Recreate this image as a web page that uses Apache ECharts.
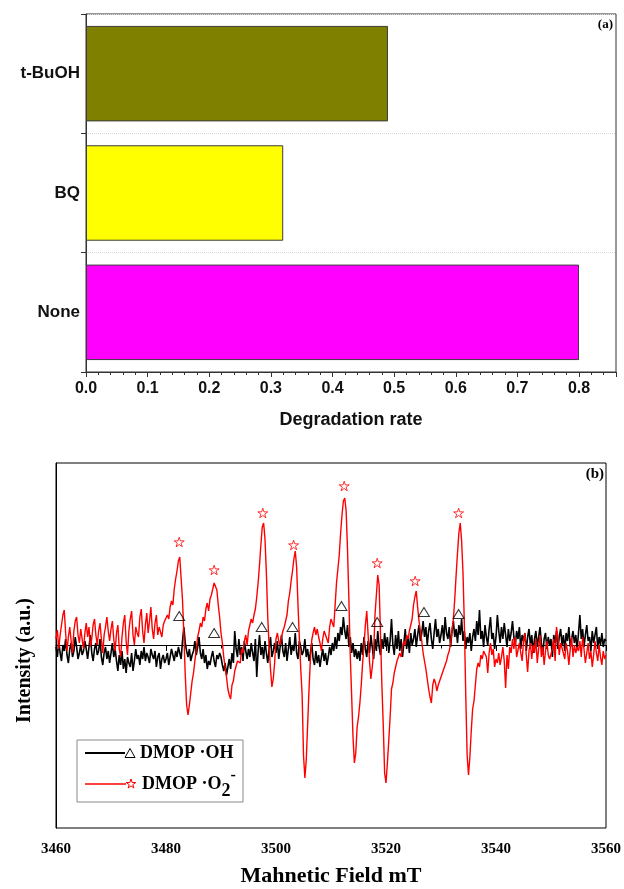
<!DOCTYPE html>
<html>
<head>
<meta charset="utf-8">
<title>Scavenger test and EPR spectra</title>
<script src="https://cdn.jsdelivr.net/npm/echarts@6/dist/echarts.min.js"></script>
<style>
  html, body { margin: 0; padding: 0; background: #fff; }
  #chart { width: 624px; height: 889px; }
</style>
</head>
<body>
<div id="chart"></div>
<script>
// ---- (a) scavenger experiment ----
const categories = ['None', 'BQ', 't-BuOH'];
const degradationRate = [0.80, 0.32, 0.49];
const barColors = ['#ff00ff', '#ffff00', '#808000'];

// ---- (b) EPR spectra, sweep 3460-3560 mT in 0.25 mT steps ----
const fieldStart = 3460;
const fieldStep = 0.25;
const fieldTicks = [3460, 3480, 3500, 3520, 3540, 3560];

// DMOP-OH trace (arbitrary intensity units)
const ohTrace = [
  -2, -12, 4, -8, -16, 0, -6, 6, -10, -18, -4, 2, -12, -6, 8, -2, -14, -8, 0, -10,
  -6, 4, -4, -14, -2, 10, -8, -16, -4, 2, -10, -6, 6, -12, -20, -8, -2, -14, -6, -18,
  -8, 2, -12, -4, -16, -26, -10, -20, -6, -24, -14, -28, -12, -18, -22, -8, -26, -16, -4, -14,
  -10, -20, -6, -14, -2, -16, -8, -12, -18, -4, -10, -14, -6, -22, -12, -8, -24, -14, -10, -18,
  -14, -8, -20, -12, -4, -10, -16, -6, -12, -2, -8, -14, 4, 18, 2, -6, -12, -4, -16, -10,
  -6, 4, -10, -2, 8, -8, -14, -4, -18, -10, -24, -16, -20, -12, -6, -16, -22, -10, -14, -8,
  -12, -20, -26, -18, -30, -22, -14, -24, -8, -18, 14, -4, -12, 6, -10, -2, -16, 4, -6, -14,
  -4, -12, 2, -8, -16, 6, -32, -6, 10, -10, -2, -14, 4, -8, -18, -4, 8, -12, -6, 2,
  -8, 4, -14, -2, 10, -6, -12, 2, -16, -4, 8, -10, 0, -6, 12, -8, -14, 4, -2, -10,
  -6, 6, -12, -4, -16, -8, 2, -14, -20, -6, -18, -10, -22, -12, -4, -16, -8, -20, -12, -2,
  -10, 2, -6, 8, -4, 12, 4, 18, 10, 28, 14, 6, 20, -2, 8, -8, 2, -12, -4, -14,
  -6, -16, 2, -10, 8, -4, -12, 4, -8, 10, -2, -14, 6, -6, 14, -2, -10, 6, -4, 12,
  -2, 8, -8, 4, 26, 0, -10, 10, -4, 14, -6, 6, -12, 2, 16, -4, 8, -8, 12, 0,
  6, 16, -2, 10, 20, 4, 12, 24, 8, 18, 0, 14, 22, 6, -4, 12, 26, 8, 16, 2,
  10, 20, 4, 28, 12, 6, 18, -2, 14, 24, 8, 16, 2, 20, 10, 26, 4, 14, -4, 8,
  2, 12, -6, 8, 16, 4, 24, 10, 35, 6, 14, -2, 20, 8, 0, 16, 28, 6, 12, -4,
  8, 30, 14, 2, 18, 6, 22, 10, -2, 16, 4, 12, 24, 8, 0, 14, 6, 18, -4, 10,
  4, 12, -6, 8, 16, 0, 10, -8, 6, 14, -2, 8, 18, 2, -10, 6, 12, -4, 8, 0,
  6, -12, 10, 2, 14, -4, 8, 16, 0, 10, -6, 12, 4, 18, -2, 6, 14, 2, 10, -4,
  12, 30, 6, 16, -2, 10, 20, 4, 8, -6, 14, 2, 10, 18, -4, 8, 0, 12, -2, 6, 4
];

// DMOP-O2- trace (arbitrary intensity units)
const o2Trace = [
  6, 15, -4, 10, 20, 30, 35, 12, -6, 8, 18, 4, -8, 14, 24, 28, 10, 2, 16, 6,
  -4, 12, 22, 8, 18, -2, 6, 20, 26, 10, 0, 14, 22, 6, -8, 10, 18, 28, 14, 4,
  16, 24, 6, -6, 12, 20, -4, -12, 8, 22, 30, 4, -10, 14, 26, 34, 10, 0, 18, 12,
  8, 28, 36, 14, 2, 20, 32, 12, 24, 38, 16, 6, 22, 30, 10, 18, 16, 8, 20, 24,
  22, 30, 26, 38, 44, 40, 56, 66, 74, 84, 88, 86, 45, 10, -30, -60, -70, -60, -48, -36,
  -28, -16, -4, 8, 14, 22, 18, 28, 24, 36, 42, 34, 46, 50, 56, 62, 63, 55, 40, 28,
  12, 2, -12, -22, -32, -44, -50, -54, -40, -36, -26, -28, -16, -14, -18, -4, -8, 4, 10, 0,
  14, 20, 26, 22, 30, 36, 48, 62, 80, 100, 118, 122, 106, 72, 28, -2, -24, -42, -34, -18,
  6, 12, 4, 0, 8, 14, 18, 24, 30, 44, 52, 64, 74, 86, 94, 78, 40, 6, -24, -50,
  -110, -133, -115, -80, -45, -15, 5, 12, 18, 10, 16, 8, 2, -6, 6, 14, 16, 6, 2, 18,
  26, 22, 18, 40, 62, 76, 90, 112, 130, 144, 147, 134, 96, 46, -10, -50, -92, -118, -108, -82,
  -72, -58, -40, -18, 0, 20, 34, 10, -16, -34, -22, -8, 30, 50, 70, 60, 10, -40, -80, -128,
  -138, -118, -96, -72, -44, -38, -28, -30, -16, -18, -8, -12, -2, 4, 0, 10, 6, 14, 20, 26,
  40, 48, 54, 38, 24, 14, 4, -8, -16, -24, -34, -44, -52, -58, -40, -34, -38, -46, -40, -36,
  -32, -28, -26, -20, -16, -10, -6, 2, 14, 26, 46, 70, 92, 112, 122, 104, 72, 20, -50, -110,
  -130, -112, -86, -64, -56, -40, -24, -18, -22, -10, -14, -6, -4, -12, -28, -8, 2, -10, -4, -22,
  -14, -18, -8, -20, -12, -2, -16, -43, -10, -24, -2, -8, 6, -4, 8, -12, -5, 2, -8, -16,
  4, 12, -10, -27, -6, 2, -14, 0, -8, 6, -18, -4, 10, -12, -2, -20, -6, 4, -10, -14,
  -12, -4, 6, -16, 18, 8, -10, 2, 4, -8, -14, 2, -6, -20, -4, 8, -12, 0, -8, -2,
  -6, 4, -12, 8, -4, -18, -8, 2, -14, -6, -22, -10, 4, -8, -16, 0, -12, -20, -6, -14, -10
];

// peak markers: triangles for ·OH, stars for ·O2-
const ohMarkField = [3482.4, 3488.75, 3497.4, 3503.0, 3511.9, 3518.4, 3526.9, 3533.2];
const ohMarkLevel = [29, 12, 18, 18, 39, 23, 33, 31];
const o2MarkField = [3482.4, 3488.75, 3497.6, 3503.2, 3512.4, 3518.4, 3525.3, 3533.2];
const o2MarkLevel = [103, 75, 132, 100, 159, 82, 64, 132];

const SANS = "'Liberation Sans', Arial, sans-serif";
const SERIF = "'Liberation Serif', 'Times New Roman', serif";
const STAR_PATH = 'path://M50,0L61.2,34.5L97.6,34.5L68.2,55.9L79.4,90.5L50,69.1L20.6,90.5L31.8,55.9L2.4,34.5L38.8,34.5Z';

const sweep = (vals) => vals.map((v, i) => [fieldStart + i * fieldStep, v]);
const zipPts = (xs, ys) => xs.map((x, i) => [x, ys[i]]);

const chart = echarts.init(document.getElementById('chart'), null, { renderer: 'canvas' });

chart.setOption({
  animation: false,
  backgroundColor: '#ffffff',
  grid: [
    { left: 86, top: 14, width: 530, height: 358, show: true, borderColor: '#333', borderWidth: 1, backgroundColor: 'transparent' },
    { left: 56, top: 463, width: 553, height: 365, show: true, borderColor: '#000', borderWidth: 1, backgroundColor: 'transparent' }
  ],
  xAxis: [
    {
      type: 'value', gridIndex: 0, min: 0, max: 0.86, interval: 0.1,
      axisLine: { show: true, lineStyle: { color: '#333', width: 1 } },
      axisTick: { show: true, length: 5, lineStyle: { color: '#333' } },
      minorTick: { show: true, splitNumber: 5, length: 3, lineStyle: { color: '#333' } },
      splitLine: { show: false },
      axisLabel: {
        formatter: (v) => v.toFixed(1), showMaxLabel: false, margin: 9,
        fontFamily: SANS, fontWeight: 'bold', fontSize: 16, color: '#111'
      },
      name: 'Degradation rate', nameLocation: 'middle', nameGap: 39,
      nameTextStyle: { fontFamily: SANS, fontWeight: 'bold', fontSize: 18, color: '#111' }
    },
    {
      type: 'value', gridIndex: 1, min: fieldTicks[0], max: fieldTicks[fieldTicks.length - 1], interval: 20,
      axisLine: { show: true, lineStyle: { color: '#000', width: 1 } },
      axisTick: { show: true, length: 6, lineStyle: { color: '#000' } },
      minorTick: { show: true, splitNumber: 2, length: 3.5, lineStyle: { color: '#000' } },
      splitLine: { show: false },
      axisLabel: {
        formatter: (v) => String(Math.round(v)), margin: 14,
        fontFamily: SERIF, fontWeight: 'bold', fontSize: 15, color: '#000'
      },
      name: 'Mahnetic Field mT', nameLocation: 'middle', nameGap: 37,
      nameTextStyle: { fontFamily: SERIF, fontWeight: 'bold', fontSize: 22, color: '#000' }
    }
  ],
  yAxis: [
    {
      type: 'category', gridIndex: 0, data: categories,
      axisLine: { show: true, lineStyle: { color: '#333', width: 1 } },
      axisTick: { show: true, length: 5, lineStyle: { color: '#333' } },
      splitLine: { show: true, lineStyle: { color: '#d8d8d8', type: 'dotted', width: 1 } },
      axisLabel: { margin: 6, fontFamily: SANS, fontWeight: 'bold', fontSize: 17, color: '#111' }
    },
    {
      type: 'value', gridIndex: 1, min: -183, max: 182,
      axisLine: { show: true, lineStyle: { color: '#000', width: 1 } },
      axisTick: { show: false },
      axisLabel: { show: false },
      splitLine: { show: false },
      name: 'Intensity (a.u.)', nameLocation: 'middle', nameRotate: 90, nameGap: 21,
      nameTextStyle: { fontFamily: SERIF, fontWeight: 'bold', fontSize: 20, color: '#000', padding: [0, 30, 0, 0] }
    }
  ],
  series: [
    {
      type: 'bar', xAxisIndex: 0, yAxisIndex: 0,
      barCategoryGap: '20%',
      data: degradationRate.map((v, i) => ({
        value: v,
        itemStyle: { color: barColors[i], borderColor: '#3c3c3c', borderWidth: 1 }
      }))
    },
    {
      name: 'DMOP ·OH', type: 'line', xAxisIndex: 1, yAxisIndex: 1,
      data: sweep(ohTrace), showSymbol: false, symbol: 'none', sampling: null,
      lineStyle: { color: '#000', width: 1.6 }, z: 2
    },
    {
      name: 'DMOP ·O2-', type: 'line', xAxisIndex: 1, yAxisIndex: 1,
      data: sweep(o2Trace), showSymbol: false, symbol: 'none', sampling: null,
      lineStyle: { color: '#ff0000', width: 1.4 }, z: 3
    },
    {
      type: 'scatter', xAxisIndex: 1, yAxisIndex: 1,
      data: zipPts(ohMarkField, ohMarkLevel),
      symbol: 'triangle', symbolSize: [11, 9],
      itemStyle: { color: 'rgba(0,0,0,0)', borderColor: '#000', borderWidth: 1 }, z: 5
    },
    {
      type: 'scatter', xAxisIndex: 1, yAxisIndex: 1,
      data: zipPts(o2MarkField, o2MarkLevel),
      symbol: STAR_PATH, symbolSize: 10, symbolKeepAspect: true,
      itemStyle: { color: 'rgba(0,0,0,0)', borderColor: '#ff0000', borderWidth: 1 }, z: 5
    }
  ],
  graphic: [
    {
      type: 'text', x: 613, y: 25, z: 10,
      style: { text: '(a)', font: "bold 13px 'Liberation Serif', serif", fill: '#000',
               align: 'right', textAlign: 'right', verticalAlign: 'middle', textVerticalAlign: 'middle' }
    },
    {
      type: 'text', x: 604, y: 474, z: 10,
      style: { text: '(b)', font: "bold 15px 'Liberation Serif', serif", fill: '#000',
               align: 'right', textAlign: 'right', verticalAlign: 'middle', textVerticalAlign: 'middle' }
    },
    // legend box
    {
      type: 'group', z: 20,
      children: [
        { type: 'rect', shape: { x: 77, y: 740, width: 166, height: 62 },
          style: { fill: '#fff', stroke: '#8a8a8a', lineWidth: 1 } },
        { type: 'line', shape: { x1: 85, y1: 753, x2: 125, y2: 753 },
          style: { stroke: '#000', lineWidth: 2 } },
        { type: 'polygon', shape: { points: [[130, 748.5], [125, 757.5], [135, 757.5]] },
          style: { fill: 'none', stroke: '#000', lineWidth: 1 } },
        { type: 'text', x: 140, y: 753,
          style: { text: 'DMOP ·OH', font: "bold 18px 'Liberation Serif', serif", fill: '#000',
                   align: 'left', textAlign: 'left', verticalAlign: 'middle', textVerticalAlign: 'middle' } },
        { type: 'line', shape: { x1: 85, y1: 784, x2: 126, y2: 784 },
          style: { stroke: '#ff0000', lineWidth: 1.5 } },
        { type: 'polygon',
          shape: { points: [[131, 779], [132.1, 782.5], [135.8, 782.5], [132.8, 784.6], [133.9, 788],
                            [131, 785.9], [128.1, 788], [129.2, 784.6], [126.2, 782.5], [129.9, 782.5]] },
          style: { fill: 'none', stroke: '#ff0000', lineWidth: 1 } },
        { type: 'text', x: 142, y: 784,
          style: {
            text: '{a|DMOP ·O}{b|2}{c|-}',
            fill: '#000', align: 'left', textAlign: 'left', verticalAlign: 'middle', textVerticalAlign: 'middle',
            rich: {
              a: { fontFamily: SERIF, fontWeight: 'bold', fontSize: 18, lineHeight: 32, verticalAlign: 'middle', fill: '#000' },
              b: { fontFamily: SERIF, fontWeight: 'bold', fontSize: 18, lineHeight: 32, verticalAlign: 'bottom', fill: '#000' },
              c: { fontFamily: SERIF, fontWeight: 'bold', fontSize: 16, lineHeight: 32, verticalAlign: 'top', fill: '#000' }
            }
          } }
      ]
    }
  ]
});
</script>
</body>
</html>
